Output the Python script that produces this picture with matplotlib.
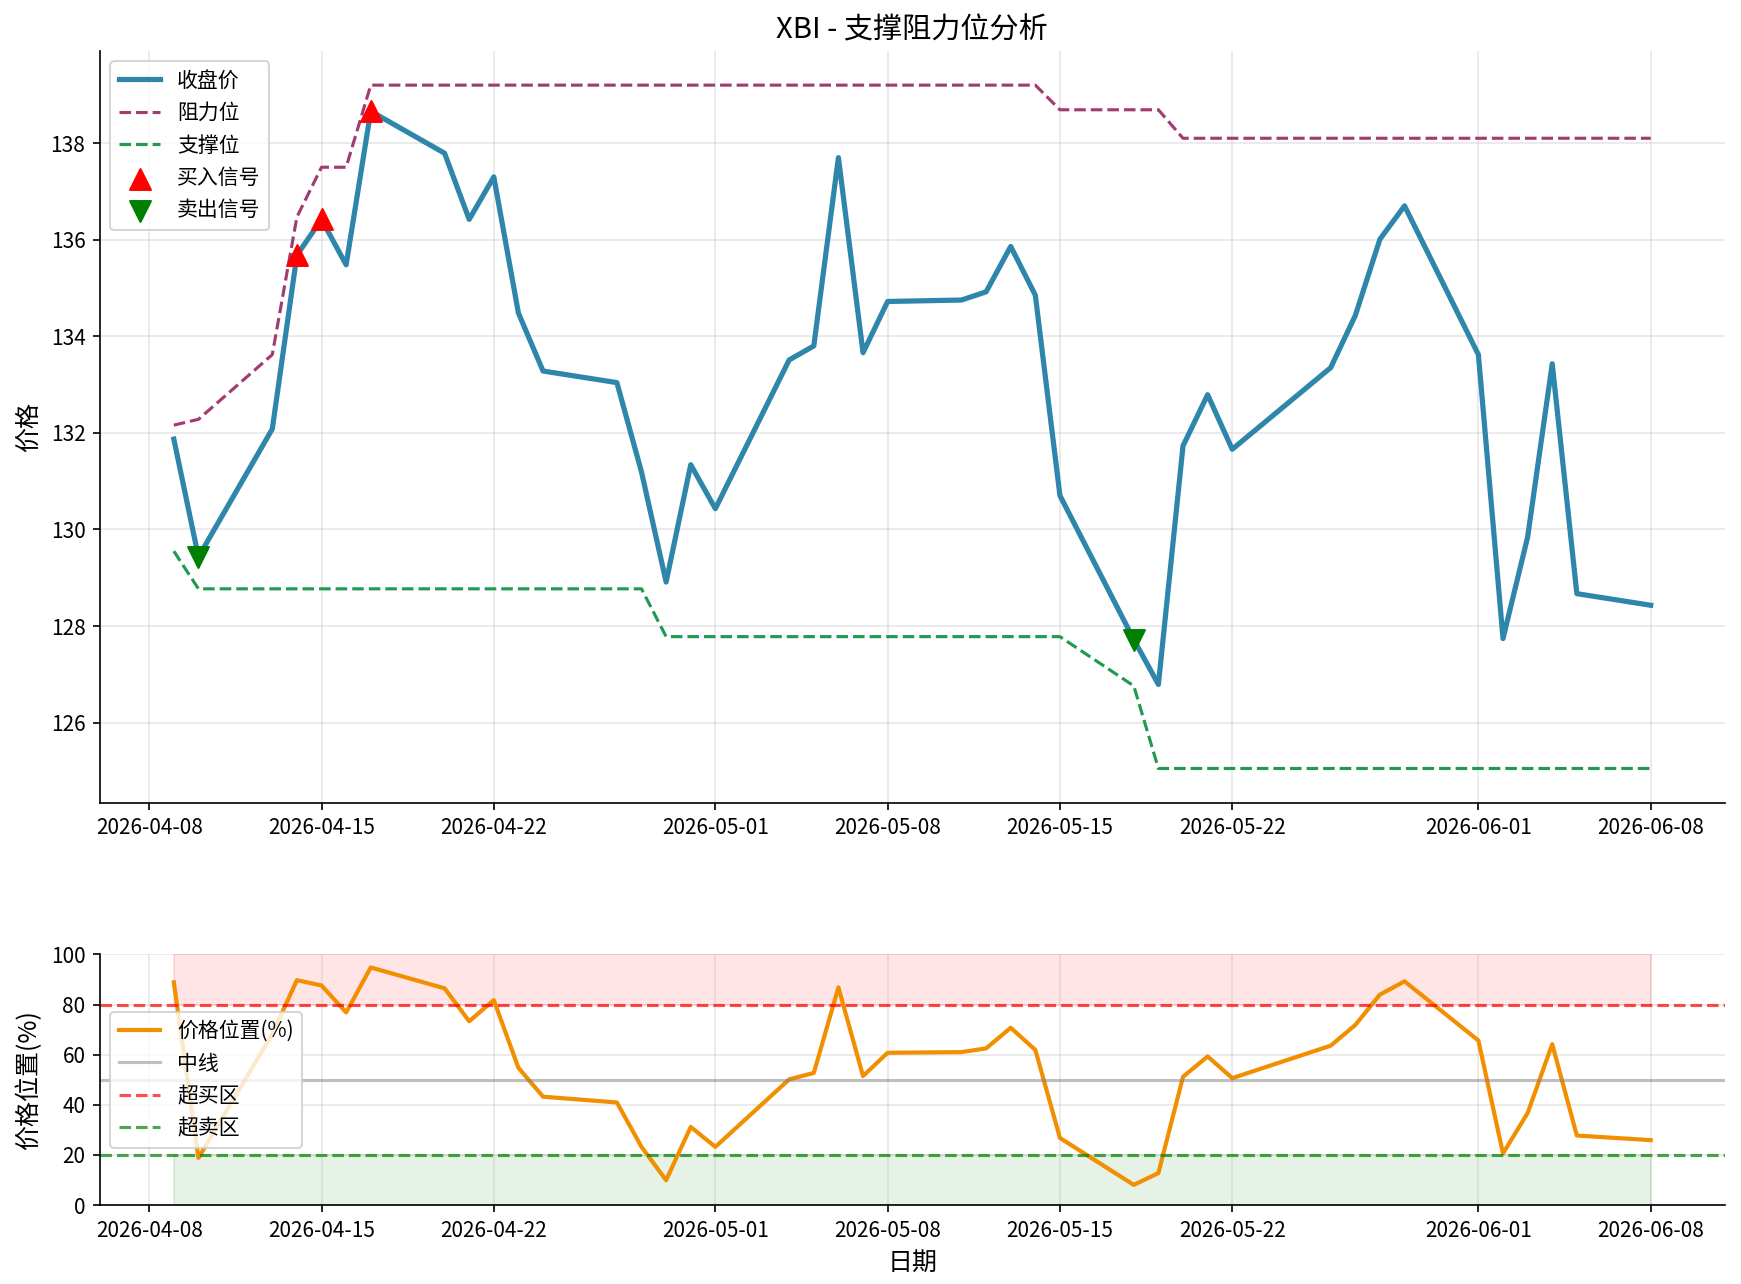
import matplotlib
matplotlib.use("Agg")
import matplotlib.pyplot as plt
import numpy as np
import pandas as pd

plt.rcParams['font.family'] = ['Noto Sans CJK SC', 'DejaVu Sans']
plt.rcParams['axes.unicode_minus'] = False

# trading days shown in the chart
dates = pd.to_datetime([
    "2026-04-09", "2026-04-10", "2026-04-13", "2026-04-14", "2026-04-15",
    "2026-04-16", "2026-04-17", "2026-04-20", "2026-04-21", "2026-04-22",
    "2026-04-23", "2026-04-24", "2026-04-27", "2026-04-28", "2026-04-29",
    "2026-04-30", "2026-05-01", "2026-05-04", "2026-05-05", "2026-05-06",
    "2026-05-07", "2026-05-08", "2026-05-11", "2026-05-12", "2026-05-13",
    "2026-05-14", "2026-05-15", "2026-05-18", "2026-05-19", "2026-05-20",
    "2026-05-21", "2026-05-22", "2026-05-26", "2026-05-27", "2026-05-28",
    "2026-05-29", "2026-06-01", "2026-06-02", "2026-06-03", "2026-06-04",
    "2026-06-05", "2026-06-08"])

close = [131.87, 129.43, 132.08, 135.68, 136.42, 135.48, 138.66, 137.79,
         136.42, 137.30, 134.48, 133.28, 133.04, 131.19, 128.91, 131.34,
         130.43, 133.51, 133.80, 137.70, 133.66, 134.72, 134.75, 134.92,
         135.86, 134.85, 130.70, 127.72, 126.79, 131.73, 132.79, 131.66,
         133.35, 134.43, 136.01, 136.70, 133.62, 127.74, 129.84, 133.43,
         128.67, 128.43]

resistance = ([132.16, 132.28, 133.62, 136.47, 137.50, 137.50]
              + [139.20] * 20 + [138.69] * 3 + [138.10] * 13)

support = ([129.55] + [128.77] * 13 + [127.78] * 13 + [126.76]
           + [125.05] * 14)

buy_idx = [3, 4, 6]
sell_idx = [1, 27]

df = pd.DataFrame({"close": close, "res": resistance, "sup": support},
                  index=dates)
df["pos"] = (df["close"] - df["sup"]) / (df["res"] - df["sup"]) * 100

fig = plt.figure(figsize=(11.613, 8.56), dpi=150)
gs = fig.add_gridspec(2, 1, height_ratios=[3, 1], left=0.0574, right=0.990,
                      top=0.9603, bottom=0.0615, hspace=0.303)
ax1 = fig.add_subplot(gs[0])
ax2 = fig.add_subplot(gs[1])

# top: price with support / resistance
ax1.plot(df.index, df["close"], color="#2E86AB", lw=2.5, label="收盘价")
ax1.plot(df.index, df["res"], color="#A23B72", lw=1.5, ls="--", label="阻力位")
ax1.plot(df.index, df["sup"], color="#1f9a50", lw=1.5, ls="--", label="支撑位")
ax1.scatter(df.index[buy_idx], df["close"].iloc[buy_idx], marker="^",
            color="red", s=100, zorder=5, label="买入信号")
ax1.scatter(df.index[sell_idx], df["close"].iloc[sell_idx], marker="v",
            color="green", s=100, zorder=5, label="卖出信号")
ax1.set_title("XBI - 支撑阻力位分析", fontsize=14)
ax1.set_ylabel("价格", fontsize=12)
ax1.legend(loc="upper left")
ax1.grid(True, alpha=0.3)

# bottom: price position within the channel
ax2.plot(df.index, df["pos"], color="#F18F01", lw=2, label="价格位置(%)")
ax2.axhline(50, color="gray", alpha=0.5, lw=1.5, label="中线")
ax2.axhline(80, color="red", alpha=0.7, ls="--", lw=1.5, label="超买区")
ax2.axhline(20, color="green", alpha=0.7, ls="--", lw=1.5, label="超卖区")
ax2.fill_between(df.index, 80, 100, color="red", alpha=0.1)
ax2.fill_between(df.index, 0, 20, color="green", alpha=0.1)
ax2.set_ylim(0, 100)
ax2.set_ylabel("价格位置(%)", fontsize=12)
ax2.set_xlabel("日期", fontsize=12)
ax2.legend(loc="center left")
ax2.grid(True, alpha=0.3)

for ax in (ax1, ax2):
    ax.spines["top"].set_visible(False)
    ax.spines["right"].set_visible(False)

fig.savefig("out.png", dpi=150)
